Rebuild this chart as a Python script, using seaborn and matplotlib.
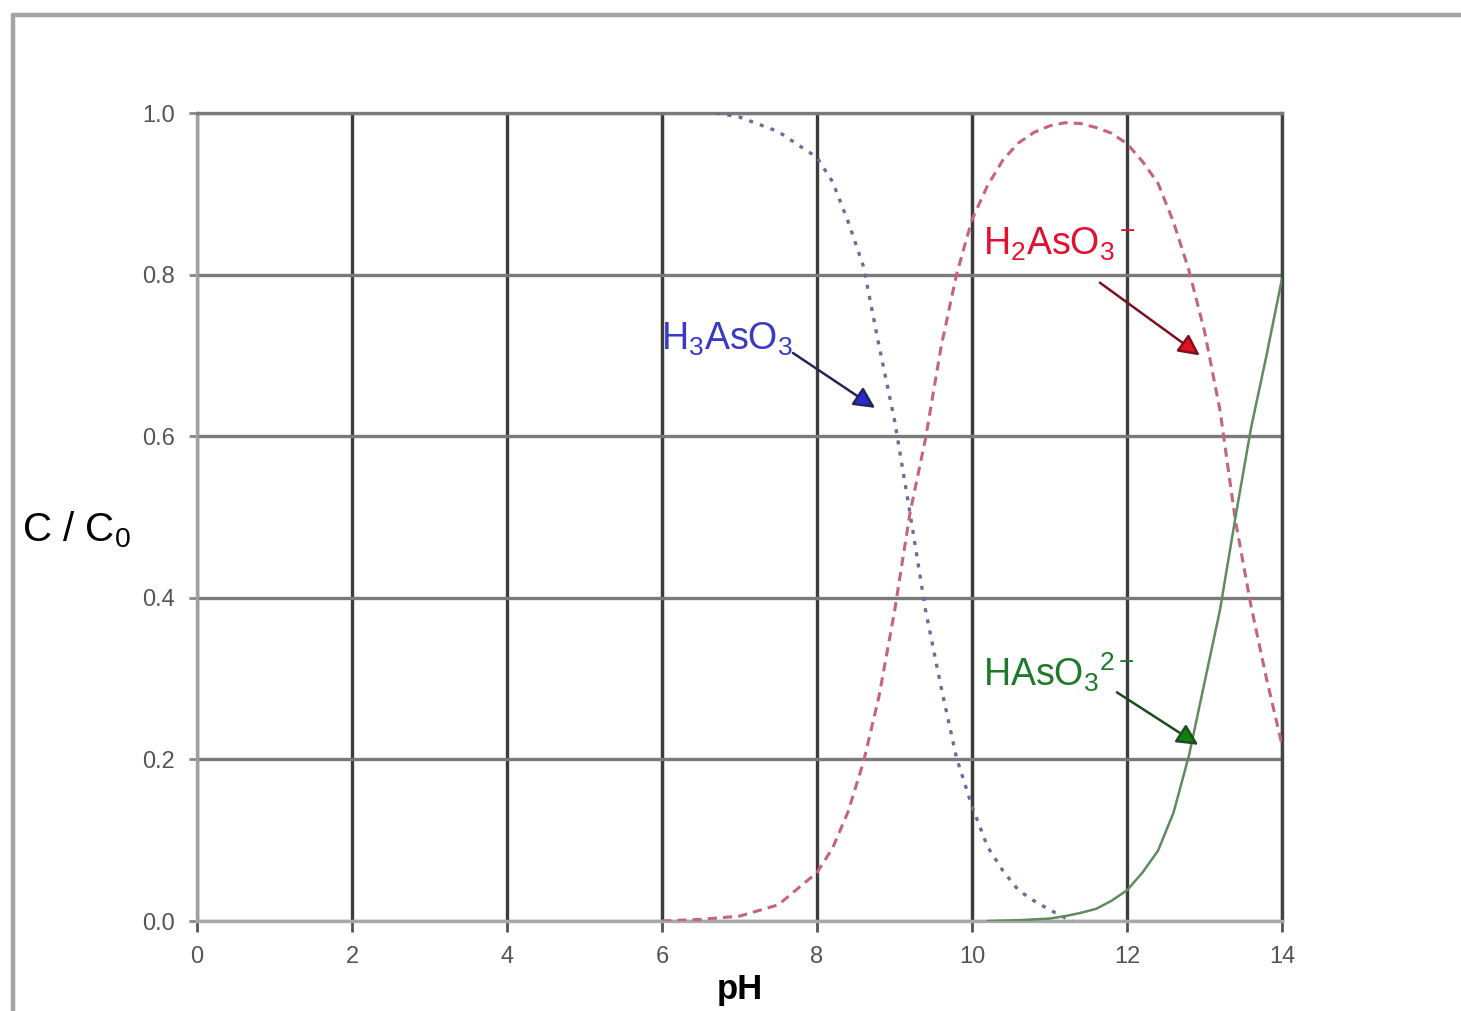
import numpy as np
import pandas as pd
import matplotlib
matplotlib.use("Agg")
import matplotlib.pyplot as plt
import seaborn as sns
from matplotlib.lines import Line2D

# ---------------- data ----------------
ph_h3aso3 = [6.7, 7.0, 7.5, 8.0, 8.2, 8.4, 8.6, 8.8, 9.0, 9.2, 9.4, 9.6, 9.8,
             10.0, 10.2, 10.4, 10.6, 10.8, 11.0, 11.2, 11.3]
frac_h3aso3 = [1.0, 0.995, 0.977, 0.945, 0.915, 0.866, 0.81, 0.712, 0.62, 0.505,
               0.385, 0.29, 0.202, 0.142, 0.092, 0.062, 0.038, 0.025, 0.014, 0.004, 0.0]

ph_h2aso3 = [6.0, 6.5, 7.0, 7.5, 8.0, 8.2, 8.4, 8.6, 8.8, 9.0, 9.2, 9.4, 9.6, 9.8,
             10.0, 10.2, 10.4, 10.6, 10.8, 11.0, 11.2, 11.4, 11.6, 11.8, 12.0,
             12.2, 12.4, 12.6, 12.8, 13.0, 13.2, 13.4, 13.6, 13.8, 14.0]
frac_h2aso3 = [0.0, 0.002, 0.006, 0.02, 0.06, 0.09, 0.135, 0.197, 0.278, 0.383,
               0.505, 0.597, 0.71, 0.80, 0.868, 0.91, 0.942, 0.963, 0.976, 0.984,
               0.988, 0.987, 0.982, 0.975, 0.962, 0.94, 0.913, 0.865, 0.805, 0.73,
               0.632, 0.495, 0.39, 0.30, 0.218]

ph_haso3 = [10.2, 10.6, 11.0, 11.2, 11.4, 11.6, 11.8, 12.0, 12.2, 12.4, 12.6,
            12.8, 13.0, 13.2, 13.4, 13.6, 13.8, 14.0]
frac_haso3 = [0.0, 0.001, 0.003, 0.006, 0.01, 0.015, 0.025, 0.038, 0.06, 0.087,
              0.134, 0.205, 0.295, 0.385, 0.50, 0.61, 0.70, 0.795]

x_ticks = [0, 2, 4, 6, 8, 10, 12, 14]
x_tick_labels = ["0", "2", "4", "6", "8", "10", "12", "14"]
y_ticks = [0.0, 0.2, 0.4, 0.6, 0.8, 1.0]
y_tick_labels = ["0.0", "0.2", "0.4", "0.6", "0.8", "1.0"]

species_labels = [r"H$_3$AsO$_3$", r"H$_2$AsO$_3$$^-$", r"HAsO$_3$$^{2-}$"]
label_pos = [(5.99, 0.72), (10.14, 0.837), (10.14, 0.308)]
arrow_start = [(7.69, 0.703), (11.65, 0.79), (11.87, 0.283)]
arrow_tip = [(8.75, 0.635), (12.94, 0.70), (12.92, 0.218)]

# ---------------- style ----------------
sns.set_theme(style="white")
plt.rcParams["font.family"] = ["Liberation Sans", "DejaVu Sans"]
plt.rcParams["mathtext.fontset"] = "custom"
plt.rcParams["mathtext.rm"] = "Liberation Sans"
plt.rcParams["mathtext.it"] = "Liberation Sans:italic"
plt.rcParams["mathtext.bf"] = "Liberation Sans:bold"
plt.rcParams["mathtext.default"] = "regular"

fig = plt.figure(figsize=(14.61, 10.11), dpi=100)
fig.patch.set_facecolor("white")
ax = fig.add_axes([197 / 1461, 1 - 921 / 1011, 1085 / 1461, 808 / 1011])
ax.set_facecolor("white")

# grid
ax.set_xlim(0, 14)
ax.set_ylim(0, 1.0)
ax.set_xticks(x_ticks)
ax.set_xticklabels(x_tick_labels)
ax.set_yticks(y_ticks)
ax.set_yticklabels(y_tick_labels)
ax.grid(axis="y", color="#7a7a7a", lw=2.4, zorder=0)
ax.grid(axis="x", color="#3c3c3c", lw=2.4, zorder=0)
ax.set_axisbelow(True)
for xv in (6, 10):
    ax.axvline(xv, color="#a8a8a8", lw=2.4, zorder=0.5)

for side, col in (("left", "#a0a0a0"), ("bottom", "#a8a8a8"),
                  ("top", "#7a7a7a"), ("right", "#444444")):
    ax.spines[side].set_color(col)
    ax.spines[side].set_linewidth(2.4)

ax.tick_params(axis="x", direction="out", length=8, width=2, color="#555555",
               labelsize=17, labelcolor="#555555", pad=10, bottom=True)
ax.tick_params(axis="y", direction="out", length=6, width=2, color="#888888",
               labelsize=17, labelcolor="#555555", pad=10, left=True)

# curves
df1 = pd.DataFrame({"pH": ph_h3aso3, "frac": frac_h3aso3})
df2 = pd.DataFrame({"pH": ph_h2aso3, "frac": frac_h2aso3})
df3 = pd.DataFrame({"pH": ph_haso3, "frac": frac_haso3})

sns.lineplot(data=df1, x="pH", y="frac", ax=ax, color="#6c6c9c", lw=2.4, zorder=3)
ax.lines[-1].set_dashes((1.2, 2.2))
sns.lineplot(data=df2, x="pH", y="frac", ax=ax, color="#c8647a", lw=2.2, zorder=3)
ax.lines[-1].set_dashes((3.0, 2.0))
sns.lineplot(data=df3, x="pH", y="frac", ax=ax, color="#5e8c5e", lw=1.8, zorder=3)

# labels with arrows
text_colors = ["#3a3ac4", "#e41030", "#1e7a2a"]
line_colors = ["#24245e", "#7a1020", "#1e4a1e"]
head_colors = ["#2a2ad0", "#e81020", "#108010"]
for lab, pos, st, tip, tc, lc, hc in zip(species_labels, label_pos, arrow_start,
                                          arrow_tip, text_colors, line_colors, head_colors):
    ax.text(pos[0], pos[1], lab, color=tc, fontsize=27, ha="left", va="center", zorder=5)
    ax.annotate("", xy=tip, xytext=st, xycoords="data", textcoords="data",
                arrowprops=dict(arrowstyle="-|>", ec=lc, fc=hc, lw=1.8,
                                mutation_scale=32, shrinkA=0, shrinkB=0),
                zorder=5)

# axis labels
ax.set_xlabel("pH", fontsize=25, fontweight="bold", color="black")
ax.xaxis.set_label_coords(0.5, -(990 - 921) / 808)
ax.xaxis.label.set_va("center")
ax.set_ylabel(r"C / C$_0$", fontsize=29, color="black", rotation=0,
              ha="center", va="center")
ax.yaxis.set_label_coords((76 - 197) / 1085, (921 - 530) / 808)

# outer frame lines (top and left only)
fig.add_artist(Line2D([13 / 1461, 1.0], [1 - 15 / 1011, 1 - 15 / 1011],
                      transform=fig.transFigure, color="#a4a4a4", lw=3.2))
fig.add_artist(Line2D([13 / 1461, 13 / 1461], [0.0, 1 - 15 / 1011],
                      transform=fig.transFigure, color="#a4a4a4", lw=3.2))

fig.savefig("out.png", dpi=100, facecolor="white")
